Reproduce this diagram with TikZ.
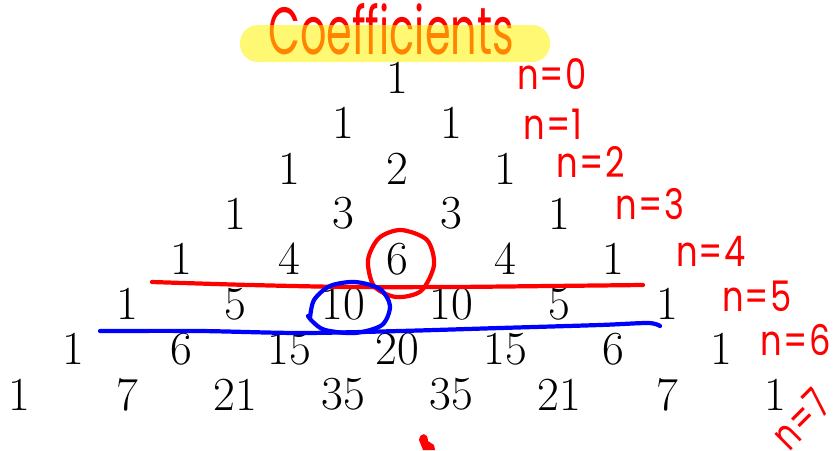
\documentclass[tikz,border=0pt]{standalone}
\usepackage{fontspec}
\newfontfamily\handfont{Poppins}
\begin{document}
\begin{tikzpicture}[x=0.02cm,y=-0.02cm,line cap=round,line join=round,
  num/.style={inner sep=1pt,font=\fontsize{27}{32}\selectfont},
  lbl/.style={red,inner sep=0pt,font=\handfont\fontsize{24}{26}\selectfont},
  ink/.style={line width=2.4pt}]
  \useasboundingbox (0,0) rectangle (834,450);
  \node[red,inner sep=0pt,font=\handfont\fontsize{38}{44}\selectfont] (title) at (391,29) {\scalebox{0.62}[1]{Coefficients}};
  \fill[yellow,opacity=0.55,rounded corners=0.36cm] (240,25) rectangle (550,62);
  \foreach \r in {0,...,7} {
    \foreach \k in {0,...,\r} {
      \pgfmathtruncatemacro\c{round(factorial(\r)/(factorial(\k)*factorial(\r-\k)))}
      \node[num] (p\r-\k) at ({397+(2*\k-\r)*54},{78+\r*45.2}) {\c};
    }
  }
  \foreach \r/\lx/\ly in {0/552/74,1/553/124,2/591/162,3/650/204,4/711/251,5/757/296,6/796/340}
    \node[lbl] (n\r) at (\lx,\ly) {\scalebox{0.8}[1]{n\kern1pt=\kern1pt\r}};
  \node[lbl,rotate=45] (n7) at (801,419) {\scalebox{0.75}[1]{n\kern1pt=\kern1pt7}};
  \draw[ink,red] plot[smooth] coordinates {(152,282) (250,285) (350,287) (450,287) (550,286) (643,285)};
  \draw[ink,red] plot[smooth cycle] coordinates {(401,230) (427,240) (434,265) (421,291) (396,297) (374,286) (368,260) (379,238)};
  \draw[ink,blue] plot[smooth] coordinates {(100,331) (200,331) (300,333) (400,331) (500,328) (600,325) (648,323) (660,326)};
  \draw[ink,blue] plot[smooth] coordinates {(310,318) (314,300) (330,286) (355,282) (380,289) (390,306) (382,325) (355,333) (325,330) (313,322) (308,316)};
  \fill[red] (423,450) -- (419,440) .. controls (420,432) and (428,432) .. (428,441) -- (434,445) -- (435,450) -- cycle;
\end{tikzpicture}
\end{document}
